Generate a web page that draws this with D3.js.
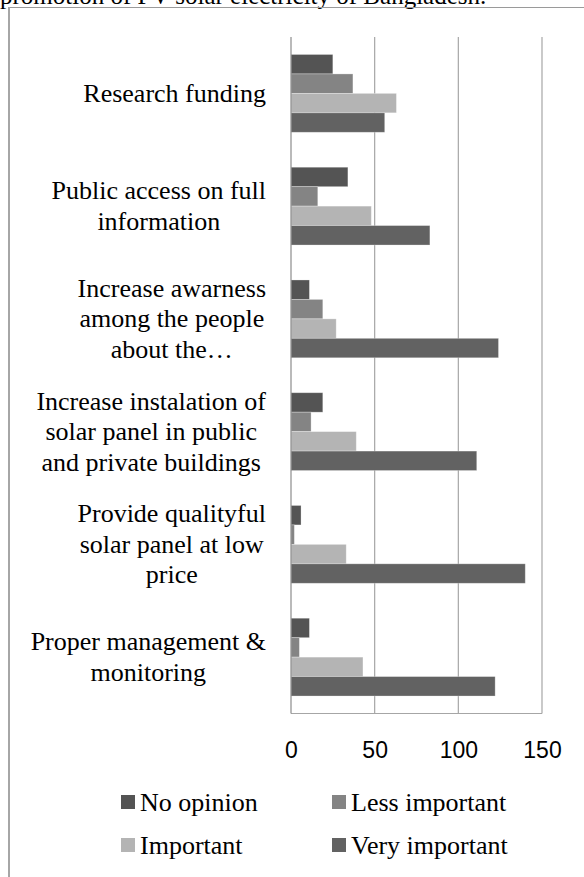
<!DOCTYPE html>
<html>
<head>
<meta charset="utf-8">
<script src="https://cdn.jsdelivr.net/npm/d3@7"></script>
<style>
  html, body { margin: 0; padding: 0; background: #fff; }
  svg { display: block; }
</style>
</head>
<body>
<svg id="chart" width="584" height="877"></svg>
<script>
const categories = [
  "Research funding",
  "Public access on full information",
  "Increase awarness among the people about the…",
  "Increase instalation of solar panel in public and private buildings",
  "Provide qualityful solar panel at low price",
  "Proper management & monitoring"
];
const categoryLines = [
  ["Research funding"],
  ["Public access on full", "information"],
  ["Increase awarness", "among the people", "about the…"],
  ["Increase instalation of", "solar panel in public", "and private buildings"],
  ["Provide qualityful", "solar panel at low", "price"],
  ["Proper management &", "monitoring"]
];
const seriesNames = ["No opinion", "Less important", "Important", "Very important"];
const noOpinion     = [25, 34, 11, 19, 6, 11];
const lessImportant = [37, 16, 19, 12, 2, 5];
const important     = [63, 48, 27, 39, 33, 43];
const veryImportant = [56, 83, 124, 111, 140, 122];
const tickValues = [0, 50, 100, 150];
const seriesColors = ["#545454", "#848484", "#b4b4b4", "#626262"];

const seriesValues = [noOpinion, lessImportant, important, veryImportant];

const svg = d3.select("#chart");

// cut-off caption text at top (as in the reference)
svg.append("text")
  .attr("x", 0).attr("y", 4)
  .attr("font-family", "'Liberation Serif', 'Times New Roman', serif")
  .attr("font-size", 25)
  .attr("fill", "#000")
  .text("promotion of PV solar electricity of Bangladesh.");

// frame lines
svg.append("line").attr("x1", 8).attr("x2", 584).attr("y1", 7.5).attr("y2", 7.5)
  .attr("stroke", "#9a9a9a").attr("stroke-width", 1);
svg.append("line").attr("x1", 9).attr("x2", 9).attr("y1", 7).attr("y2", 877)
  .attr("stroke", "#a6a6a6").attr("stroke-width", 2);

const plot = { left: 291, right: 542, top: 37, bottom: 713.5 };

const x = d3.scaleLinear().domain([0, 150]).range([plot.left, plot.right]);
const y = d3.scaleBand().domain(categories).range([plot.top, plot.bottom])
  .paddingInner(0.31).paddingOuter(0.155);
const ySub = d3.scaleBand().domain(seriesNames).range([0, y.bandwidth()]).padding(0);

// gridlines
svg.append("g").selectAll("line").data(tickValues.filter(d => d > 0)).join("line")
  .attr("x1", d => x(d)).attr("x2", d => x(d))
  .attr("y1", plot.top).attr("y2", plot.bottom)
  .attr("stroke", "#a6a6a6").attr("stroke-width", 1.2);
// bottom border
svg.append("line").attr("x1", plot.left).attr("x2", plot.right)
  .attr("y1", plot.bottom).attr("y2", plot.bottom)
  .attr("stroke", "#a6a6a6").attr("stroke-width", 1.2);

// bars
const rows = [];
categories.forEach((c, i) => {
  seriesNames.forEach((s, j) => rows.push({ cat: c, series: s, value: seriesValues[j][i], color: seriesColors[j] }));
});
svg.append("g").selectAll("rect").data(rows).join("rect")
  .attr("x", x(0))
  .attr("y", d => y(d.cat) + ySub(d.series))
  .attr("width", d => x(d.value) - x(0))
  .attr("height", ySub.bandwidth())
  .attr("fill", d => d.color)
  .attr("stroke", "#ffffff")
  .attr("stroke-opacity", 0.35)
  .attr("stroke-width", 0.8);

// category axis line
svg.append("line").attr("x1", plot.left).attr("x2", plot.left)
  .attr("y1", plot.top).attr("y2", plot.bottom)
  .attr("stroke", "#8c8c8c").attr("stroke-width", 1.2);

// x axis tick labels using d3 axis
const xAxis = d3.axisBottom(x).tickValues(tickValues).tickSize(0).tickPadding(0).tickFormat(d3.format("d"));
const gx = svg.append("g").attr("transform", `translate(0, 758)`).call(xAxis);
gx.select(".domain").remove();
gx.selectAll("text")
  .attr("font-family", "'Liberation Sans', Arial, sans-serif")
  .attr("font-size", 23)
  .attr("fill", "#000")
  .attr("dy", 0)
  .attr("y", 0);

// category labels
const labelRight = 266;
const lineH = 30.5;
const lg = svg.append("g")
  .attr("font-family", "'Liberation Serif', 'Times New Roman', serif")
  .attr("font-size", 26)
  .attr("fill", "#000");
categories.forEach((c, i) => {
  const lines = categoryLines[i];
  const cy = y(c) + y.bandwidth() / 2;
  const g = lg.append("g");
  const texts = lines.map((t, k) => g.append("text")
    .attr("y", cy + (k - (lines.length - 1) / 2) * lineH + 8.6)
    .attr("text-anchor", "middle")
    .text(t));
  const maxW = d3.max(texts, t => t.node().getComputedTextLength());
  texts.forEach(t => t.attr("x", labelRight - maxW / 2));
});

// legend
const legendItems = [
  { name: seriesNames[0], color: seriesColors[0], sx: 121, cy: 802 },
  { name: seriesNames[1], color: seriesColors[1], sx: 332, cy: 802 },
  { name: seriesNames[2], color: seriesColors[2], sx: 121, cy: 845 },
  { name: seriesNames[3], color: seriesColors[3], sx: 332, cy: 845 }
];
const leg = svg.append("g");
legendItems.forEach(it => {
  leg.append("rect").attr("x", it.sx).attr("y", it.cy - 7).attr("width", 14).attr("height", 14)
    .attr("fill", it.color);
  leg.append("text").attr("x", it.sx + 19).attr("y", it.cy + 8.6)
    .attr("font-family", "'Liberation Serif', 'Times New Roman', serif")
    .attr("font-size", 26).attr("fill", "#000")
    .text(it.name);
});
</script>
</body>
</html>
